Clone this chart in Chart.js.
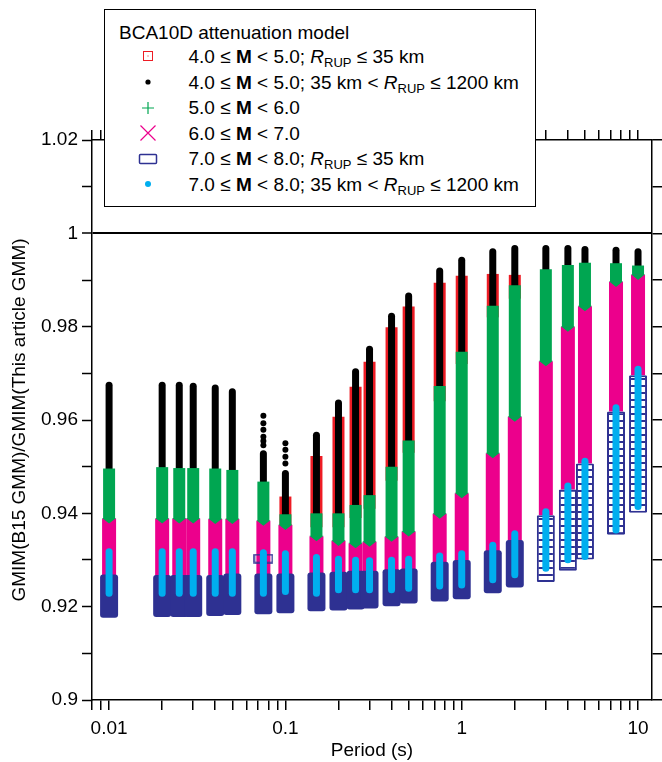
<!DOCTYPE html>
<html>
<head>
<meta charset="utf-8">
<script src="https://cdn.jsdelivr.net/npm/chart.js@4.4.1/dist/chart.umd.min.js"></script>
<style>
html,body{margin:0;padding:0;background:#fff;}
#wrap{position:relative;width:662px;height:762px;font-family:"Liberation Sans",Arial,Helvetica,sans-serif;color:#000;overflow:hidden;}
#c{position:absolute;left:0;top:0;}
#lg{position:absolute;left:104px;top:8.5px;width:429.5px;height:196.5px;border:1.5px solid #000;background:#fff;}
.t{position:absolute;font-size:19px;line-height:21px;white-space:nowrap;}
.t sub{font-size:13px;vertical-align:-4px;line-height:0;}
.m{position:absolute;overflow:visible;}
</style>
</head>
<body>
<div id="wrap">
<canvas id="c" width="662" height="762" style="width:662px;height:762px"></canvas>
<div id="lg"></div>
<div class="t" style="left:119px;top:21.9px">BCA10D attenuation model</div>
<div class="t" style="left:188.5px;top:46px">4.0 ≤ <b>M</b> &lt; 5.0; <i>R</i><sub>RUP</sub> ≤ 35 km</div>
<div class="t" style="left:188.5px;top:71.6px">4.0 ≤ <b>M</b> &lt; 5.0; 35 km &lt; <i>R</i><sub>RUP</sub> ≤ 1200 km</div>
<div class="t" style="left:188.5px;top:97.2px">5.0 ≤ <b>M</b> &lt; 6.0</div>
<div class="t" style="left:188.5px;top:122.8px">6.0 ≤ <b>M</b> &lt; 7.0</div>
<div class="t" style="left:188.5px;top:148.4px">7.0 ≤ <b>M</b> &lt; 8.0; <i>R</i><sub>RUP</sub> ≤ 35 km</div>
<div class="t" style="left:188.5px;top:174px">7.0 ≤ <b>M</b> &lt; 8.0; 35 km &lt; <i>R</i><sub>RUP</sub> ≤ 1200 km</div>
<svg class="m" style="left:137.7px;top:46.3px" width="20" height="20"><rect x="5.5" y="5.5" width="9" height="9" fill="none" stroke="#ed1c24" stroke-width="1"/><rect x="9.5" y="9.5" width="1" height="1" fill="#ed1c24"/></svg>
<svg class="m" style="left:137.7px;top:71.9px" width="20" height="20"><circle cx="10" cy="10" r="2.6" fill="#000"/></svg>
<svg class="m" style="left:137.7px;top:97.5px" width="20" height="20"><path d="M10 4 V16 M4 10 H16" stroke="#00a651" stroke-width="1.2"/></svg>
<svg class="m" style="left:137.7px;top:123.1px" width="20" height="20"><path d="M2.5 2.5 L17.5 17.5 M17.5 2.5 L2.5 17.5" stroke="#ec008c" stroke-width="1.2"/></svg>
<svg class="m" style="left:137.7px;top:148.7px" width="20" height="20"><rect x="1.5" y="5.5" width="17" height="9" rx="1" fill="none" stroke="#2e3192" stroke-width="1.5"/></svg>
<svg class="m" style="left:137.7px;top:174.3px" width="20" height="20"><circle cx="10" cy="10" r="3" fill="#00aeef"/></svg>
</div>
<script>
// ---- data ----
const periods = [0.01, 0.02, 0.025, 0.03, 0.04, 0.05, 0.075, 0.1, 0.15, 0.2, 0.25, 0.3, 0.4, 0.5, 0.75, 1, 1.5, 2, 3, 4, 5, 7.5, 10];

// M4-5, Rrup <= 35 km (red squares)
const redLo = [null, null, null, null, null, null, null, 0.937, 0.937, 0.937, 0.939, 0.941, 0.947, 0.953, 0.964, 0.972, 0.982, 0.986, null, null, null, null, null];
const redHi = [null, null, null, null, null, null, null, 0.9436, 0.9523, 0.9607, 0.9671, 0.9725, 0.9799, 0.9843, 0.9894, 0.9909, 0.9913, 0.9911, null, null, null, null, null];

// M4-5, 35 < Rrup <= 1200 km (black dots)
const blackLo = [0.946, 0.946, 0.946, 0.946, 0.946, 0.946, 0.944, 0.939, 0.937, 0.937, 0.939, 0.941, 0.947, 0.953, 0.964, 0.972, 0.982, 0.986, 0.990, 0.991, 0.991, 0.991, 0.991];
const blackHi = [0.9682, 0.9682, 0.9682, 0.9680, 0.9676, 0.9668, 0.9535, 0.9493, 0.9575, 0.9644, 0.9711, 0.9759, 0.9830, 0.9873, 0.9927, 0.9950, 0.9968, 0.9975, 0.9975, 0.9975, 0.9973, 0.9971, 0.9968];
// isolated black dots above the dense part
const blackSparseX = [0.075, 0.075, 0.075, 0.075, 0.075, 0.075, 0.1, 0.1, 0.1, 0.1];
const blackSparseY = [0.9609, 0.9593, 0.9579, 0.9564, 0.9555, 0.9546, 0.9550, 0.9536, 0.9521, 0.9507];

// M5-6 (green plus)
const greenLo = [0.9365, 0.9365, 0.9365, 0.9365, 0.9365, 0.9365, 0.936, 0.935, 0.933, 0.932, 0.9315, 0.932, 0.933, 0.934, 0.938, 0.942, 0.951, 0.9585, 0.970, 0.978, 0.982, 0.9875, 0.989];
const greenHi = [0.9496, 0.9499, 0.9497, 0.9497, 0.9496, 0.9493, 0.9468, 0.9398, 0.9400, 0.9400, 0.9418, 0.9439, 0.9500, 0.9556, 0.9673, 0.9746, 0.9845, 0.9889, 0.9923, 0.9932, 0.9937, 0.9936, 0.9931];

// M6-7 (magenta cross)
const magLo = [0.9180, 0.9180, 0.9180, 0.9180, 0.9182, 0.9184, 0.9186, 0.9188, 0.9192, 0.9194, 0.9196, 0.9198, 0.9203, 0.9209, 0.9213, 0.9218, 0.9231, 0.9243, 0.9396, 0.9451, 0.9507, 0.9618, 0.9696];
const magHi = [0.9389, 0.9389, 0.9389, 0.9389, 0.9388, 0.9388, 0.9384, 0.9375, 0.9351, 0.9341, 0.9336, 0.9339, 0.9350, 0.9361, 0.9399, 0.9443, 0.9529, 0.9607, 0.9726, 0.9800, 0.9844, 0.9896, 0.9911];

// M7-8, Rrup <= 35 km (navy rectangles)
const navyLo = [0.9176, 0.9178, 0.9178, 0.9178, 0.9180, 0.9182, 0.9184, 0.9186, 0.9190, 0.9192, 0.9194, 0.9196, 0.9201, 0.9207, 0.9211, 0.9216, 0.9229, 0.9241, 0.9253, 0.9277, 0.9301, 0.9354, 0.9401];
const navyHi = [0.9269, 0.9268, 0.9268, 0.9268, 0.9268, 0.9271, 0.9271, 0.9271, 0.9273, 0.9275, 0.9277, 0.9277, 0.9280, 0.9282, 0.9296, 0.9300, 0.9321, 0.9343, 0.9396, 0.9451, 0.9507, 0.9618, 0.9696];
const navySparseX = [0.075];
const navySparseY = [0.9303];

// M7-8, 35 < Rrup <= 1200 km (cyan dots)
const cyanLo = [0.9221, 0.9221, 0.9221, 0.9221, 0.9221, 0.9221, 0.9221, 0.9225, 0.9221, 0.9229, 0.9229, 0.9229, 0.9229, 0.9232, 0.9237, 0.9239, 0.9250, 0.9261, 0.9275, 0.9293, 0.9300, 0.9357, 0.9407];
const cyanHi = [0.9325, 0.9325, 0.9325, 0.9325, 0.9325, 0.9325, 0.9323, 0.9321, 0.9313, 0.9309, 0.9307, 0.9306, 0.9307, 0.9309, 0.9316, 0.9321, 0.9339, 0.9364, 0.9411, 0.9466, 0.9519, 0.9634, 0.9716];

// axes
const xTickValues = [0.008, 0.009, 0.01, 0.02, 0.03, 0.04, 0.05, 0.06, 0.07, 0.08, 0.09, 0.1, 0.2, 0.3, 0.4, 0.5, 0.6, 0.7, 0.8, 0.9, 1, 2, 3, 4, 5, 6, 7, 8, 9, 10];
const xLabelValues = [0.01, 0.1, 1, 10];
const xLabelTexts = ['0.01', '0.1', '1', '10'];
const yTickValues = [0.9, 0.91, 0.92, 0.93, 0.94, 0.95, 0.96, 0.97, 0.98, 0.99, 1, 1.01, 1.02];
const yLabelValues = [0.9, 0.92, 0.94, 0.96, 0.98, 1, 1.02];
const yLabelTexts = ['0.9', '0.92', '0.94', '0.96', '0.98', '1', '1.02'];

// ---- styles ----
const NAVY = '#2e3192', CYAN = '#00aeef', MAG = '#ec008c', GREEN = '#00a651', RED = '#ed1c24', BLACK = '#000000';
const FONT = '"Liberation Sans", Arial, Helvetica, sans-serif';

const canvas = document.getElementById('c');
const ctx = canvas.getContext('2d');

function ladderPattern() {
  const c = document.createElement('canvas');
  c.width = 4; c.height = 7;
  const g = c.getContext('2d');
  g.fillStyle = '#ffffff'; g.fillRect(0, 0, 4, 7);
  g.fillStyle = NAVY; g.fillRect(0, 0, 4, 2);
  return ctx.createPattern(c, 'repeat');
}
const ladder = ladderPattern();

function rectMarker() {
  const c = document.createElement('canvas');
  c.width = 20; c.height = 10;
  const g = c.getContext('2d');
  g.strokeStyle = NAVY; g.lineWidth = 1.5;
  g.strokeRect(1, 1, 18, 8);
  return c;
}

function ranges(lo, hi) {
  const out = [];
  periods.forEach((p, i) => { if (lo[i] != null && hi[i] != null) out.push({x: p, y: [lo[i], hi[i]]}); });
  return out;
}
function points(xs, ys) { return xs.map((x, i) => ({x, y: ys[i]})); }
function near(a, b) { return Math.abs(a - b) < 1e-9; }

// The stacked "x" markers leave a V-shaped notch at the top of each magenta column,
// through which the green "+" column above shows.
const notchPlugin = {
  id: 'notch',
  afterDatasetDraw(chart, args) {
    const ds = chart.data.datasets[args.index];
    if (!ds.notchColor) return;
    const g = chart.ctx;
    g.save();
    g.fillStyle = ds.notchColor;
    args.meta.data.forEach(el => {
      const p = el.getProps(['x', 'y', 'width'], true);
      g.beginPath();
      g.moveTo(p.x - p.width / 2, p.y - 0.5);
      g.lineTo(p.x + p.width / 2, p.y - 0.5);
      g.lineTo(p.x, p.y + p.width * 0.36);
      g.closePath();
      g.fill();
    });
    g.restore();
  }
};

const datasets = [
  {type: 'bar', label: '4.0 ≤ M < 5.0; RRUP ≤ 35 km', data: ranges(redLo, redHi), backgroundColor: RED, barThickness: 12, order: 7},
  {type: 'bar', label: '4.0 ≤ M < 5.0; 35 km < RRUP ≤ 1200 km', data: ranges(blackLo, blackHi), backgroundColor: BLACK, barThickness: 7, borderRadius: 3.5, order: 6},
  {type: 'scatter', label: 'M4-5 far (isolated)', data: points(blackSparseX, blackSparseY), backgroundColor: BLACK, borderWidth: 0, pointRadius: 3, order: 6},
  {type: 'bar', label: '5.0 ≤ M < 6.0', data: ranges(greenLo, greenHi), backgroundColor: GREEN, barThickness: 12, order: 5},
  {type: 'bar', label: '6.0 ≤ M < 7.0', data: ranges(magLo, magHi), backgroundColor: MAG, barThickness: 14, order: 4, notchColor: GREEN},
  {type: 'bar', label: '7.0 ≤ M < 8.0; RRUP ≤ 35 km', data: ranges(navyLo, navyHi),
    backgroundColor: c => (c.raw && c.raw.x >= 3) ? ladder : NAVY,
    borderColor: NAVY,
    borderWidth: c => (c.raw && c.raw.x >= 3) ? 2 : 0,
    borderRadius: c => (c.raw && c.raw.x >= 3) ? 1 : 3,
    barThickness: 18, order: 3},
  {type: 'scatter', label: 'M7-8 near (isolated)', data: points(navySparseX, navySparseY), pointStyle: rectMarker(), pointRadius: 9, order: 3},
  {type: 'bar', label: '7.0 ≤ M < 8.0; 35 km < RRUP ≤ 1200 km', data: ranges(cyanLo, cyanHi), backgroundColor: CYAN, barThickness: 7, borderRadius: 3.5, order: 1}
];
datasets.forEach(d => { if (d.type === 'bar') { d.grouped = false; d.borderSkipped = false; if (d.borderWidth === undefined) d.borderWidth = 0; d.inflateAmount = 0; } });

const tickFont = {family: FONT, size: 19};

new Chart(ctx, {
  type: 'bar',
  data: {datasets},
  plugins: [notchPlugin],
  options: {
    responsive: false,
    devicePixelRatio: 1,
    animation: false,
    events: [],
    layout: {padding: 0},
    plugins: {legend: {display: false}, tooltip: {enabled: false}, title: {display: false}},
    scales: {
      x: {
        type: 'logarithmic', position: 'bottom', min: 0.008, max: 12, offset: false,
        afterBuildTicks: s => { s.ticks = xTickValues.map(v => ({value: v})); },
        afterFit: s => { s.height = 62; },
        ticks: {
          autoSkip: false, maxRotation: 0, minRotation: 0, padding: 7, color: '#000', font: tickFont,
          callback: v => { const i = xLabelValues.findIndex(a => near(a, v)); return i >= 0 ? xLabelTexts[i] : ''; }
        },
        grid: {drawOnChartArea: false, drawTicks: true, tickLength: 10, color: '#000', tickColor: '#000', lineWidth: 1.5, tickWidth: 1.5, offset: false},
        border: {display: true, color: '#000', width: 1.5},
        title: {display: true, text: 'Period (s)', color: '#000', font: {family: FONT, size: 19}, padding: {top: 0, bottom: 0}}
      },
      x2: {
        type: 'logarithmic', position: 'top', min: 0.008, max: 12, offset: false,
        afterBuildTicks: s => { s.ticks = xTickValues.map(v => ({value: v})); },
        afterFit: s => { s.height = 140; },
        ticks: {display: false, autoSkip: false},
        grid: {drawOnChartArea: false, drawTicks: true, tickLength: 10, color: '#000', tickColor: '#000', lineWidth: 1.5, tickWidth: 1.5, offset: false},
        border: {display: true, color: '#000', width: 1.5}
      },
      y: {
        type: 'linear', position: 'left', min: 0.9, max: 1.02,
        afterBuildTicks: s => { s.ticks = yTickValues.map(v => ({value: v})); },
        afterFit: s => { s.width = 92; },
        ticks: {
          autoSkip: false, padding: 4, color: '#000', font: tickFont,
          callback: v => { const i = yLabelValues.findIndex(a => near(a, v)); return i >= 0 ? yLabelTexts[i] : ''; }
        },
        grid: {
          drawOnChartArea: true, drawTicks: true, tickLength: 10,
          color: c => (c.tick && near(c.tick.value, 1)) ? '#000' : 'rgba(0,0,0,0)',
          lineWidth: c => (c.tick && near(c.tick.value, 1)) ? 2 : 1,
          tickColor: '#000', tickWidth: 1.5
        },
        border: {display: true, color: '#000', width: 1.5},
        title: {display: true, text: 'GMIM(B15 GMM)/GMIM(This article GMM)', color: '#000', font: {family: FONT, size: 19}, padding: {top: 8.5, bottom: 0}}
      },
      y2: {
        type: 'linear', position: 'right', min: 0.9, max: 1.02,
        afterBuildTicks: s => { s.ticks = yTickValues.map(v => ({value: v})); },
        afterFit: s => { s.width = 10; },
        ticks: {display: false},
        grid: {drawOnChartArea: false, drawTicks: true, tickLength: 10, color: '#000', tickColor: '#000', lineWidth: 1.5, tickWidth: 1.5},
        border: {display: true, color: '#000', width: 1.5}
      }
    }
  }
});
</script>
</body>
</html>
